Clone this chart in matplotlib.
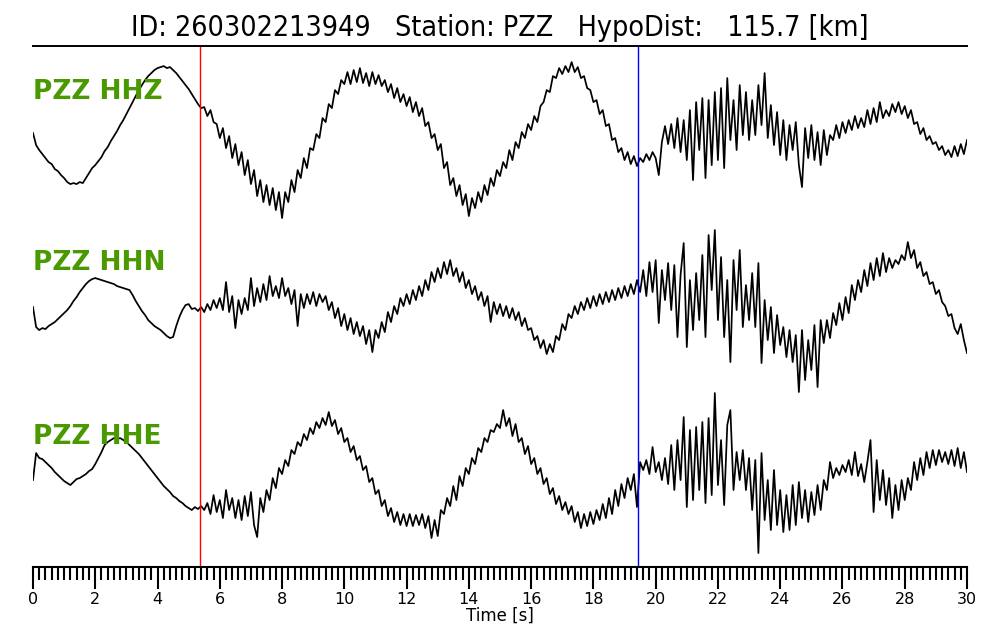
"""Three-component seismogram for station PZZ with P and S picks."""

import matplotlib
matplotlib.use("Agg")
import matplotlib.pyplot as plt
from matplotlib.ticker import MultipleLocator
import numpy as np

TITLE = "ID: 260302213949   Station: PZZ   HypoDist:   115.7 [km]"
CHANNELS = ["PZZ HHZ", "PZZ HHN", "PZZ HHE"]
SAMPLE_STEP = 0.1  # s
P_PICK = 5.36
S_PICK = 19.43

# amplitudes (arbitrary counts), one row per second
HHZ = [
    -3, -15, -20, -24, -28, -32, -34, -39, -41, -45,
    -48, -52, -54, -53, -54, -52, -53, -48, -43, -38,
    -35, -31, -27, -21, -17, -11, -6, -1, 5, 10,
    16, 22, 28, 34, 40, 45, 50, 54, 57, 60,
    62, 63, 64, 62, 63, 60, 57, 53, 49, 45,
    41, 36, 31, 26, 22, 23, 14, 20, 8, 6,
    -8, 2, -18, -6, -28, -14, -35, -22, -45, -30,
    -54, -40, -66, -50, -72, -55, -75, -58, -80, -62,
    -88, -62, -72, -50, -62, -40, -48, -28, -38, -18,
    -20, -4, -8, 12, 8, 26, 22, 40, 36, 50,
    46, 58, 46, 60, 48, 62, 47, 57, 44, 58,
    46, 55, 44, 50, 38, 46, 32, 42, 28, 36,
    24, 33, 18, 28, 14, 22, 4, 8, -8, -4,
    -20, -14, -38, -32, -55, -48, -66, -55, -75, -64,
    -86, -68, -78, -62, -72, -55, -65, -48, -56, -40,
    -46, -32, -38, -20, -30, -12, -18, -2, -8, 6,
    0, 14, 8, 24, 28, 40, 38, 54, 52, 62,
    56, 64, 58, 68, 58, 63, 52, 54, 42, 40,
    28, 30, 16, 20, 4, 6, -10, -8, -22, -18,
    -30, -22, -34, -26, -36, -28, -32, -24, -30, -22,
    -28, -45, -12, 4, -14, 6, -18, 12, -22, 10,
    -30, 20, -50, 28, -20, 32, -48, 30, -35, 38,
    -30, 42, -38, 52, -10, 30, -20, 45, -5, 38,
    -10, 30, -5, 45, 5, 57, -8, 25, -15, 18,
    -25, 10, -30, 5, -20, 8, -35, -57, 2, -28,
    5, -30, -2, -35, 0, -25, -5, -10, 5, -8,
    8, -3, 10, 0, 14, 2, 12, 3, 20, 6,
    22, 8, 28, 12, 20, 14, 26, 18, 28, 16,
    24, 12, 20, 6, 8, -4, 2, -10, -6, -14,
    -12, -20, -16, -25, -20, -27, -16, -26, -14, -24,
    -10,
]

HHN = [
    -7, -27, -30, -28, -29, -26, -24, -22, -19, -16,
    -13, -10, -6, -1, 3, 8, 12, 16, 19, 21,
    22, 21, 20, 19, 18, 17, 16, 14, 13, 12,
    11, 10, 5, -1, -6, -11, -15, -20, -23, -26,
    -28, -30, -33, -36, -38, -37, -26, -17, -10, -5,
    -4, -9, -8, -11, -7, -12, -4, -10, 0, -8,
    2, -10, 18, -12, 4, -28, 0, -14, 2, -10,
    22, -6, 12, -2, 16, 0, 24, 4, 14, 2,
    22, 4, 12, -4, 10, -26, 6, -8, 6, -4,
    8, -6, 6, -2, 4, -10, -2, -18, -8, -26,
    -14, -30, -18, -34, -22, -36, -26, -44, -30, -52,
    -30, -38, -22, -32, -12, -22, -6, -14, 2, -6,
    6, -4, 10, 0, 14, 4, 20, 10, 28, 18,
    32, 22, 38, 26, 40, 24, 32, 18, 28, 12,
    20, 6, 14, 0, 8, -6, 4, -22, -2, -14,
    -4, -16, -6, -18, -8, -20, -12, -26, -18, -30,
    -28, -40, -36, -48, -40, -54, -44, -52, -36, -40,
    -24, -30, -14, -18, -6, -14, -2, -10, 2, -8,
    4, -6, 6, -4, 8, -2, 10, 0, 12, 2,
    14, 4, 16, 6, 20, 8, 30, 4, 38, 8,
    40, -23, 30, 0, 37, -10, 35, -37, 25, 57,
    -47, 20, -30, 27, -20, 45, -37, 65, 10, 70,
    -20, 43, -37, 20, -62, 40, -10, 50, -27, 15,
    -20, 27, -27, 37, -63, 0, -40, -7, -53, -15,
    -45, -27, -57, -30, -62, -35, -92, -30, -80, -40,
    -70, -25, -87, -20, -43, -20, -38, -13, -25, -3,
    -20, 3, -13, 15, 0, 20, 8, 30, 14, 37,
    20, 42, 24, 47, 28, 42, 32, 40, 36, 45,
    40, 58, 42, 50, 32, 38, 24, 28, 16, 18,
    6, 10, -2, -6, -16, -14, -28, -34, -24, -40,
    -53,
]

HHE = [
    -10, 17, 12, 11, 8, 5, 2, -2, -5, -8,
    -11, -13, -15, -12, -9, -8, -6, -4, -1, 1,
    6, 12, 18, 25, 28, 30, 32, 31, 32, 30,
    28, 25, 22, 19, 16, 12, 8, 4, 0, -4,
    -8, -12, -16, -19, -22, -26, -28, -31, -33, -36,
    -38, -40, -37, -39, -36, -40, -33, -44, -25, -42,
    -30, -48, -20, -40, -28, -48, -30, -50, -26, -46,
    -22, -55, -67, -28, -42, -20, -30, -8, -18, 2,
    -4, 10, 4, 20, 16, 28, 24, 36, 30, 42,
    36, 48, 42, 52, 45, 58, 44, 50, 36, 42,
    28, 32, 18, 24, 10, 14, 0, 4, -12, -8,
    -24, -20, -36, -30, -46, -38, -52, -42, -55, -44,
    -56, -44, -56, -45, -55, -44, -58, -46, -68, -50,
    -66, -40, -44, -28, -36, -16, -30, -6, -16, 2,
    -4, 12, 6, 22, 18, 32, 28, 40, 38, 46,
    42, 60, 44, 52, 34, 46, 28, 32, 16, 24,
    6, 12, -4, 2, -14, -8, -24, -18, -34, -26,
    -40, -32, -44, -36, -52, -42, -58, -44, -56, -42,
    -54, -40, -50, -34, -48, -28, -44, -20, -36, -14,
    -28, -8, -20, -4, -37, 8, 0, 10, -4, 23,
    -2, 8, -10, 12, -14, 25, -20, 30, -10, 53,
    -37, 40, -30, 43, -20, 48, -33, 52, -25, 77,
    -15, 30, -35, 45, 60, -20, 18, -10, 20, -20,
    12, -40, 10, -83, 17, -50, -10, -60, 0, -55,
    -20, -62, -25, -60, -15, -55, -12, -48, -20, -52,
    -22, -45, -15, -40, -10, -20, 8, -8, 2, -5,
    5, -2, 10, -5, 18, -6, 6, -12, 8, 30,
    -42, 10, -30, 0, -35, -8, -48, -15, -40, -10,
    -30, -8, -20, 8, -10, 12, -5, 18, 2, 20,
    5, 20, 8, 18, 6, 20, 4, 22, 2, 18,
    -2,
]

TRACES = [HHZ, HHN, HHE]
OFFSETS = [0, -170, -340]
LABEL_Y = [38, -133, -307]
GREEN = "#4b9900"


def main() -> None:
    plt.rcParams["font.family"] = "DejaVu Sans"
    fig = plt.figure(figsize=(10, 6.4), dpi=100)
    ax = fig.add_axes([0.033, 0.114, 0.934, 0.814])

    for trace, offset, label, label_y in zip(TRACES, OFFSETS, CHANNELS, LABEL_Y):
        values = np.asarray(trace, dtype=float)
        times = np.arange(len(values)) * SAMPLE_STEP
        ax.plot(times, values + offset, color="black", linewidth=1.25)
        ax.text(0.0, label_y, label, color=GREEN, fontsize=19, fontweight="bold",
                ha="left", va="center")

    ax.axvline(P_PICK, color="red", linewidth=1.0)
    ax.axvline(S_PICK, color="blue", linewidth=1.0)

    ax.set_xlim(0, 30)
    ax.set_ylim(-437, 84)
    ax.set_yticks([])
    ax.spines["left"].set_visible(False)
    ax.spines["right"].set_visible(False)
    ax.spines["top"].set_linewidth(1.4)
    ax.spines["bottom"].set_linewidth(1.5)

    ax.xaxis.set_major_locator(MultipleLocator(2))
    ax.xaxis.set_minor_locator(MultipleLocator(0.2))
    ax.tick_params(axis="x", which="major", length=16, width=1.5, labelsize=11.5, pad=2)
    ax.tick_params(axis="x", which="minor", length=9, width=1.5)
    ax.set_xlabel("Time [s]", fontsize=12, labelpad=0)

    fig.text(0.5, 1 - 28 / 640, TITLE, ha="center", va="center", fontsize=20.5,
             fontstretch="condensed")

    fig.savefig("out.png", dpi=100)


if __name__ == "__main__":
    main()
